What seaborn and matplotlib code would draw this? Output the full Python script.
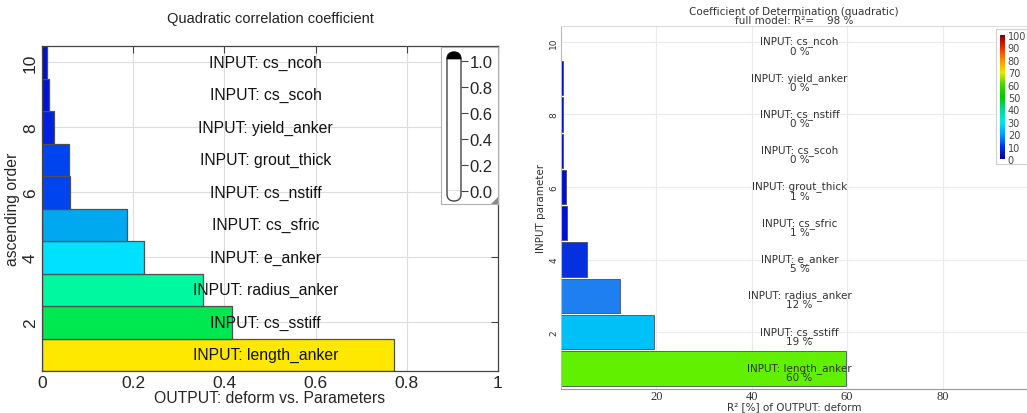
import numpy as np
import pandas as pd
import matplotlib
matplotlib.use("Agg")
import matplotlib.pyplot as plt
import seaborn as sns
from matplotlib.patches import FancyBboxPatch, Wedge, Polygon
from matplotlib.colors import LinearSegmentedColormap, Normalize
from matplotlib.cm import ScalarMappable

# ---------------- data ----------------
left_params = ["length_anker", "cs_sstiff", "radius_anker", "e_anker", "cs_sfric",
               "cs_nstiff", "grout_thick", "yield_anker", "cs_scoh", "cs_ncoh"]
left_rank = [1, 2, 3, 4, 5, 6, 7, 8, 9, 10]
left_values = [0.772, 0.417, 0.352, 0.224, 0.187, 0.061, 0.060, 0.027, 0.016, 0.012]

right_params = ["length_anker", "cs_sstiff", "radius_anker", "e_anker", "cs_sfric",
                "grout_thick", "cs_scoh", "cs_nstiff", "yield_anker", "cs_ncoh"]
right_rank = [1, 2, 3, 4, 5, 6, 7, 8, 9, 10]
right_values = [59.8, 19.4, 12.4, 5.4, 1.3, 1.0, 0.45, 0.45, 0.4, 0.1]
full_model_r2 = 98

left_xticks = [0, 0.2, 0.4, 0.6, 0.8, 1]
left_xticklabels = ["0", "0.2", "0.4", "0.6", "0.8", "1"]
left_legend_ticks = [0.0, 0.2, 0.4, 0.6, 0.8, 1.0]
rank_ticks = [2, 4, 6, 8, 10]
right_xticks = [20, 40, 60, 80]
cbar_ticks = [0, 10, 20, 30, 40, 50, 60, 70, 80, 90, 100]

# ---------------- style ----------------
left_colors = ["#ffe800", "#00e850", "#00f8a0", "#00e0ff", "#00a8f0",
               "#0044f0", "#0044f0", "#0022e0", "#0012d8", "#0010d0"]
right_colors = ["#60f000", "#00c0f8", "#1e80f0", "#0530e0", "#0010d0",
                "#0010d0", "#0008c8", "#0008c8", "#0008c8", "#0008c8"]

sns.set_style("white")
plt.rcParams["font.family"] = ["Liberation Sans", "DejaVu Sans"]

W, H = 1027, 414
fig = plt.figure(figsize=(W / 100, H / 100), dpi=100)


def fx(px):
    return px / W


def fy(py):
    return 1 - py / H


# ---------------- left panel ----------------
ax1 = fig.add_axes([fx(42), fy(372), fx(498 - 42), (372 - 47) / H])
df_l = pd.DataFrame({"value": left_values, "rank": left_rank, "param": left_params})
sns.barplot(data=df_l, x="value", y="rank", hue="param", orient="h", native_scale=True,
            palette=dict(zip(left_params, left_colors)), dodge=False, legend=False,
            width=1.0, edgecolor="#505050", linewidth=0.9, saturation=1, ax=ax1)
ax1.set_xlim(0, 1)
ax1.set_ylim(0.5, 10.5)
ax1.set_xticks(left_xticks)
ax1.set_xticklabels(left_xticklabels)
ax1.set_yticks(rank_ticks)
ax1.set_yticklabels([str(t) for t in rank_ticks], rotation=90, va="center")
ax1.grid(True, color="#dcdcdc", lw=0.8)
ax1.set_axisbelow(True)
ax1.tick_params(direction="in", top=True, right=True, length=5, labelsize=12.5,
                color="#444444", pad=3)
for s in ax1.spines.values():
    s.set_color("#444444")
    s.set_linewidth(0.9)
for r, p in zip(left_rank, left_params):
    ax1.text(0.49, r, f"INPUT: {p}", ha="center", va="center", fontsize=11.3, color="#111111")
ax1.set_xlabel("OUTPUT: deform vs. Parameters", fontsize=11.3, labelpad=0)
ax1.set_ylabel("ascending order", fontsize=11.3, labelpad=2)
ax1.set_title("Quadratic correlation coefficient", fontsize=10.5, pad=17, color="#222222")

# legend-like thermometer box
lax = fig.add_axes([fx(441), fy(205), fx(57), 157 / H])
lax.set_xlim(0, 57)
lax.set_ylim(0, 157)
lax.set_xticks([])
lax.set_yticks([])
lax.set_facecolor("white")
for s in lax.spines.values():
    s.set_color("#b0b0b0")
    s.set_linewidth(0.8)
lax.add_patch(FancyBboxPatch((6, 3), 14, 149, boxstyle="round,pad=0,rounding_size=7",
                             fc="white", ec="#444444", lw=1.0))
lax.add_patch(Wedge((13, 145), 7, 0, 180, fc="black", ec="black", lw=0.5))
lax.add_patch(Polygon([(57, 0), (57, 7), (50, 0)], closed=True, fc="#8a8a8a", ec="none"))

cax = fig.add_axes([fx(447), fy(192), fx(14), 130 / H])
cax.set_facecolor("none")
cax.set_ylim(0, 1)
cax.set_xlim(0, 1)
for s in cax.spines.values():
    s.set_visible(False)
cax.set_xticks([])
cax.yaxis.tick_right()
cax.set_yticks(left_legend_ticks)
cax.set_yticklabels([f"{t:.1f}" for t in left_legend_ticks])
cax.tick_params(axis="y", direction="out", length=5, labelsize=12, pad=1, color="#444444")
cax.axhline(0, color="#444444", lw=0.9)

# ---------------- right panel ----------------
rfont = ["DejaVu Sans"]
ax2 = fig.add_axes([fx(561), fy(390), fx(W - 561), (390 - 27) / H])
df_r = pd.DataFrame({"value": right_values, "rank": right_rank, "param": right_params})
sns.barplot(data=df_r, x="value", y="rank", hue="param", orient="h", native_scale=True,
            palette=dict(zip(right_params, right_colors)), dodge=False, legend=False,
            width=0.95, edgecolor="#4a4a70", linewidth=0.6, saturation=1, ax=ax2)
ax2.set_xlim(0, (W - 561) / 4.77)
ax2.set_ylim(0.43, 10.44)
ax2.set_xticks(right_xticks)
ax2.set_xticklabels([str(t) for t in right_xticks], family="Liberation Serif", fontsize=9,
                    color="#333333")
ax2.set_yticks(rank_ticks)
ax2.set_yticklabels([str(t) for t in rank_ticks], rotation=90, va="center", family=rfont,
                    fontsize=6.5, color="#333333")
ax2.tick_params(axis="x", length=0, pad=1)
ax2.tick_params(axis="y", length=0, pad=2)
ax2.grid(True, color="#ebebeb", lw=0.8)
ax2.set_axisbelow(True)
ax2.spines["left"].set_color("#b8b8b8")
ax2.spines["bottom"].set_color("#999999")
ax2.spines["top"].set_color("#dddddd")
ax2.spines["right"].set_visible(False)
for r, p, v in zip(right_rank, right_params, right_values):
    ax2.text(50, r - 0.1, f"INPUT: {p}\n{v:.0f} %", ha="center", va="center",
             family=rfont, fontsize=7.5, color="#333333", linespacing=0.9)
ax2.set_xlabel("R\u00b2 [%] of OUTPUT: deform", family=rfont, fontsize=7.5,
               color="#333333", labelpad=-1)
ax2.set_ylabel("INPUT parameter", family=rfont, fontsize=7.5, color="#333333", labelpad=2)
ax2.set_title(f"Coefficient of Determination (quadratic)\nfull model: R\u00b2=    {full_model_r2} %",
              family=rfont, fontsize=7.5, color="#333333", linespacing=0.95, pad=2)

# colorbar box
rbox = fig.add_axes([fx(996), fy(165), fx(W - 996), 135 / H])
rbox.set_facecolor("white")
rbox.set_xticks([])
rbox.set_yticks([])
for s in rbox.spines.values():
    s.set_color("#d0d0d0")
    s.set_linewidth(0.8)
rbox.spines["right"].set_visible(False)

cmap = LinearSegmentedColormap.from_list(
    "ref", ["#000090", "#0030ff", "#00a0ff", "#00e8e8", "#00d890", "#00c800",
            "#40d800", "#e8e800", "#ff9000", "#f02800", "#800000"])
ccax = fig.add_axes([fx(1000), fy(160), fx(5), 124 / H])
cb = fig.colorbar(ScalarMappable(norm=Normalize(0, 100), cmap=cmap), cax=ccax)
cb.outline.set_visible(False)
cb.set_ticks(cbar_ticks)
cb.ax.tick_params(length=0, labelsize=7, pad=2, colors="#444444")
for t in cb.ax.get_yticklabels():
    t.set_family(rfont)

fig.savefig("out.png", dpi=100)
